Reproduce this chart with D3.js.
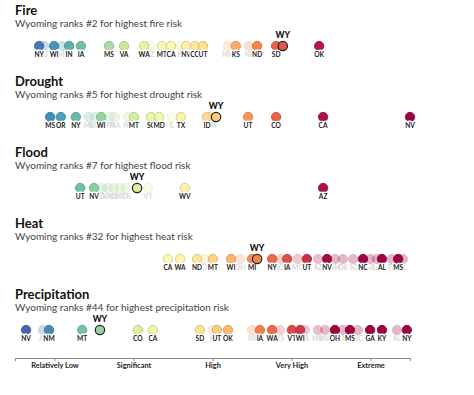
<!DOCTYPE html>
<html>
<head>
<meta charset="utf-8">
<script src="https://cdn.jsdelivr.net/npm/d3@7/dist/d3.min.js"></script>
<style>
body { margin: 0; background: #fff; font-family: Lato, "Open Sans", sans-serif; }
</style>
</head>
<body>
<div id="chart"></div>
<script>
// hazard rows
var hazards = ["Fire", "Drought", "Flood", "Heat", "Precipitation"];
var wyRanks = [2, 5, 7, 32, 44];

// risk scores (0-100) per state
var fireStates = ["NY","NJ","WI","MI","IN","IA","MS","VA","WA","AZ","MT","CA","ID","NV","CO","UT","NM","KS","NE","ND","SD","WY","OK"];
var fireScores = [6.1, 7.3, 9.9, 11.9, 13.7, 16.7, 23.8, 27.6, 32.7, 34.2, 37.2, 39.5, 42.0, 43.3, 45.6, 47.6, 53.9, 55.9, 59.2, 61.3, 66.1, 67.8, 77.0];
var fireLabeled = ["NY","WI","IN","IA","MS","VA","WA","MT","CA","NV","CO","UT","KS","ND","SD","OK"];

var droughtStates = ["MS","OR","NY","ME","MN","WI","PA","MA","NE","MT","SC","MD","IL","TX","ID","NM","WY","UT","CO","CA","NV"];
var droughtScores = [8.9, 11.6, 15.4, 18.7, 20.3, 21.8, 24.1, 25.3, 28.6, 30.1, 34.4, 36.5, 39.7, 42.0, 48.6, 49.6, 50.9, 59.0, 66.1, 78.0, 100];
var droughtLabeled = ["MS","OR","NY","WI","MT","SC","MD","TX","ID","UT","CO","CA","NV"];

var floodStates = ["UT","NV","ID","NM","CO","MT","OR","WY","VT","WV","AZ"];
var floodScores = [16.5, 20.0, 22.0, 23.5, 25.1, 26.6, 28.1, 30.9, 33.7, 43.0, 78.0];
var floodLabeled = ["UT","NV","WV","AZ"];

var heatStates = ["CA","WA","ND","ID","MT","WI","OH","MI","WY","NY","KS","IA","MO","UT","AZ","NV","NM","OK","SC","NC","GA","LA","AL","TX","MS","FL"];
var heatScores = [38.7, 41.8, 46.1, 47.8, 50.1, 54.7, 57.0, 60.0, 61.3, 65.1, 67.3, 68.9, 71.6, 73.9, 76.7, 79.0, 81.0, 83.0, 85.6, 88.1, 89.9, 91.6, 92.9, 95.4, 97.0, 98.2];
var heatLabeled = ["CA","WA","ND","MT","WI","MI","NY","IA","UT","NV","NC","AL","MS"];

var precipStates = ["NV","AZ","NM","MT","WY","CO","CA","SD","ID","UT","OK","MI","IA","WA","KS","VT","WI","PA","MD","MA","OH","TN","MS","NC","GA","KY","AL","NY"];
var precipScores = [2.8, 7.1, 8.6, 17.0, 21.5, 31.1, 34.9, 46.8, 50.1, 51.1, 53.9, 60.0, 62.0, 65.1, 67.1, 70.1, 72.2, 73.4, 76.7, 78.5, 81.0, 83.0, 84.8, 86.8, 89.9, 92.9, 96.7, 99.2];
var precipLabeled = ["NV","NM","MT","CO","CA","SD","UT","OK","IA","WA","VT","WI","OH","MS","GA","KY","NY"];

// category axis
var categoryTicks = [10, 30, 50, 70, 90];
var categoryLabels = ["Relatively Low", "Significant", "High", "Very High", "Extreme"];

var rowStates = [fireStates, droughtStates, floodStates, heatStates, precipStates];
var rowScores = [fireScores, droughtScores, floodScores, heatScores, precipScores];
var rowLabeled = [fireLabeled, droughtLabeled, floodLabeled, heatLabeled, precipLabeled];

var width = 474,
    height = 395,
    r = 4.7;

var svg = d3.select("#chart").append("svg")
    .attr("width", width)
    .attr("height", height);

var x = d3.scaleLinear().domain([0, 100]).range([15, 410]);
var color = d3.scaleSequential(d3.interpolateSpectral).domain([80, 0]).clamp(true);

hazards.forEach(function(h, i) {
  var data = rowStates[i].map(function(s, j) {
    return { state: s, score: rowScores[i][j], labeled: rowLabeled[i].indexOf(s) >= 0, wy: s == "WY" };
  });

  var g = svg.append("g")
      .attr("transform", "translate(0," + (46 + i * 71) + ")");

  g.append("text")
      .attr("x", 15).attr("y", -31)
      .style("font-size", "13px").style("font-weight", "700").style("fill", "#111")
      .text(h);
  g.append("text")
      .attr("x", 15).attr("y", -19)
      .style("font-size", "10px").style("fill", "#444")
      .text("Wyoming ranks #" + wyRanks[i] + " for highest " + h.toLowerCase() + " risk");

  var faded = data.filter(function(d) { return !d.labeled && !d.wy; });
  var shown = data.filter(function(d) { return d.labeled; });
  var wy = data.filter(function(d) { return d.wy; });

  // faded states go underneath
  g.selectAll(".fdot")
      .data(faded)
    .enter().append("circle")
      .attr("class", "fdot")
      .attr("cx", function(d) { return x(d.score); })
      .attr("r", r)
      .style("fill", function(d) { return color(d.score); })
      .style("stroke", function(d) { return d3.color(color(d.score)).darker(0.6); })
      .style("stroke-width", 0.8)
      .style("opacity", 0.28);
  g.selectAll(".flab")
      .data(faded)
    .enter().append("text")
      .attr("class", "flab")
      .attr("x", function(d) { return x(d.score); })
      .attr("y", 11)
      .attr("text-anchor", "middle")
      .style("font-size", "6.6px").style("font-weight", "700").style("fill", "#d6d6d6")
      .text(function(d) { return d.state; });

  g.selectAll(".dot")
      .data(shown)
    .enter().append("circle")
      .attr("class", "dot")
      .attr("cx", function(d) { return x(d.score); })
      .attr("r", r)
      .style("fill", function(d) { return color(d.score); })
      .style("stroke", function(d) { return d3.color(color(d.score)).darker(0.6); })
      .style("stroke-width", 0.8);
  g.selectAll(".lab")
      .data(shown)
    .enter().append("text")
      .attr("class", "lab")
      .attr("x", function(d) { return x(d.score); })
      .attr("y", 11)
      .attr("text-anchor", "middle")
      .style("font-size", "6.6px").style("font-weight", "700").style("fill", "#222")
      .style("stroke", "#fff").style("stroke-width", 2.6).style("paint-order", "stroke")
      .text(function(d) { return d.state; });

  g.selectAll(".wy")
      .data(wy)
    .enter().append("circle")
      .attr("class", "wy")
      .attr("cx", function(d) { return x(d.score); })
      .attr("r", r)
      .style("fill", function(d) { return color(d.score); })
      .style("stroke", "#222")
      .style("stroke-width", 1.2);
  g.selectAll(".wylab")
      .data(wy)
    .enter().append("text")
      .attr("class", "wylab")
      .attr("x", function(d) { return x(d.score); })
      .attr("y", -8)
      .attr("text-anchor", "middle")
      .style("font-size", "8.5px").style("font-weight", "900").style("fill", "#111")
      .text("WY");
});

var axis = svg.append("g")
    .attr("transform", "translate(0,358)")
    .call(d3.axisBottom(x)
      .tickValues(categoryTicks)
      .tickSize(3)
      .tickPadding(2)
      .tickFormat(function(d, j) { return categoryLabels[j]; }));
axis.select(".domain").style("stroke", "#888");
axis.selectAll(".tick line").style("stroke", "#888");
axis.selectAll(".tick text")
    .style("font-family", "Lato, sans-serif")
    .style("font-size", "7.4px").style("font-weight", "700").style("fill", "#222");
</script>
</body>
</html>
